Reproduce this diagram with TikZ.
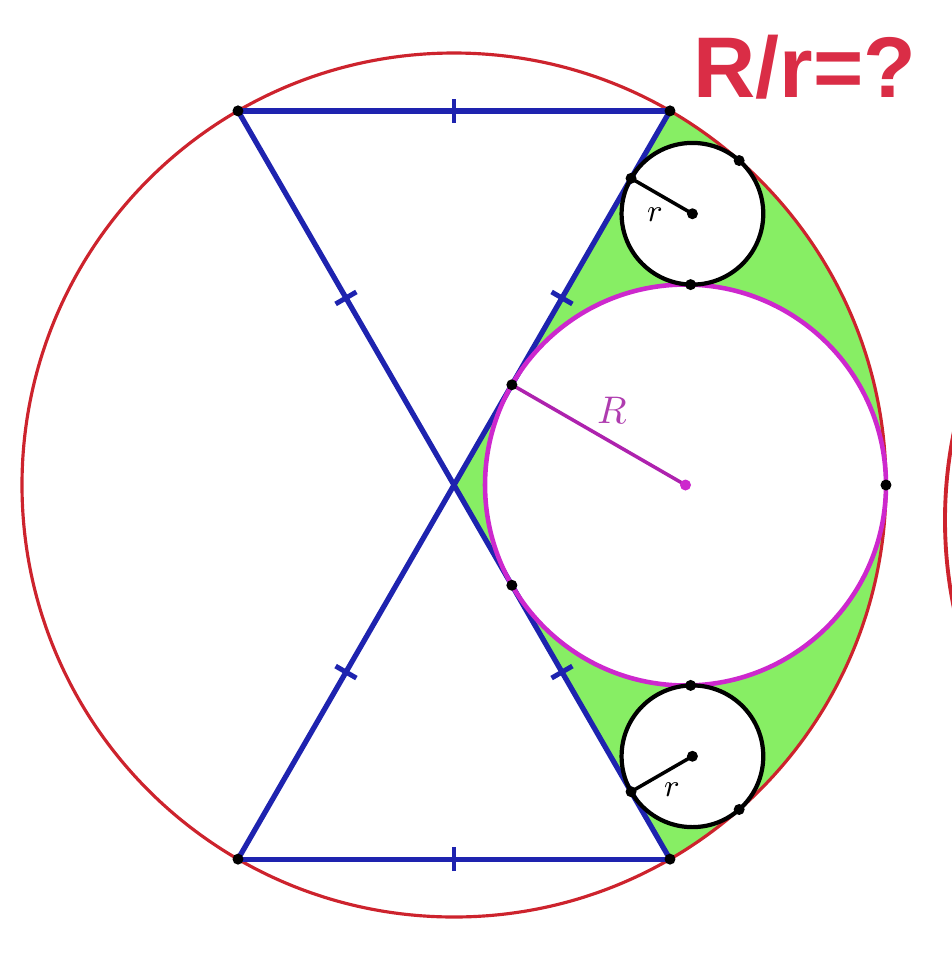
\documentclass[tikz,border=0pt]{standalone}
\usepackage{fontspec}
\newfontfamily\titlefont{Liberation Sans}
\usetikzlibrary{calc}
\definecolor{bigred}{RGB}{205,35,45}
\definecolor{lineblue}{RGB}{30,35,175}
\definecolor{magentac}{RGB}{205,40,205}
\definecolor{labelmag}{RGB}{175,60,175}
\definecolor{fillgreen}{RGB}{135,238,100}
\definecolor{titlered}{RGB}{218,45,70}
\newcommand\tickrule{\rule{1.4pt}{0.24cm}}
\begin{document}
\begin{tikzpicture}[
  dot/.style={circle,fill=black,inner sep=0pt,minimum size=0.11cm},
  mdot/.style={circle,fill=magentac,inner sep=0pt,minimum size=0.11cm},
  bigcirc/.style={draw=bigred,line width=0.9pt},
  blueline/.style={draw=lineblue,line width=1.5pt},
  smallcirc/.style={draw=black,line width=1.2pt},
  magcirc/.style={draw=magentac,line width=1.3pt},
  tk/.style={midway,sloped,inner sep=0pt,text=lineblue},
  rlabel/.style={font=\fontsize{9}{10}\selectfont},
]
\useasboundingbox (0,0) rectangle (9.52,-9.6);
\def\RR{4.32}
\def\rho{2.0049}
\def\rs{0.7085}
\coordinate (O) at (4.54,-4.85);
\coordinate (A) at ($(O)+(120:\RR)$);
\coordinate (B) at ($(O)+(60:\RR)$);
\coordinate (D) at ($(O)+(240:\RR)$);
\coordinate (E) at ($(O)+(300:\RR)$);
\coordinate (M) at ($(O)+(2.3151,0)$);
\coordinate (C1) at ($(O)+(2.3843,2.7126)$);
\coordinate (C2) at ($(O)+(2.3843,-2.7126)$);

% green region
\fill[fillgreen] (B) -- (O) -- (E) arc[start angle=-60,end angle=60,radius=\RR] -- cycle;
\fill[white] (M) circle[radius=\rho];
\fill[white] (C1) circle[radius=\rs];
\fill[white] (C2) circle[radius=\rs];

% big circle
\draw[bigcirc] (O) circle[radius=\RR];

% blue lines with ticks
\draw[blueline] (A) -- (B) node[tk] (t1) {\tickrule};
\draw[blueline] (D) -- (E) node[tk] (t2) {\tickrule};
\draw[blueline] (A) -- (O) node[tk] (t3) {\tickrule};
\draw[blueline] (O) -- (E) node[tk] (t4) {\tickrule};
\draw[blueline] (B) -- (O) node[tk] (t5) {\tickrule};
\draw[blueline] (O) -- (D) node[tk] (t6) {\tickrule};

% circles
\draw[magcirc] (M) circle[radius=\rho];
\draw[smallcirc] (C1) circle[radius=\rs];
\draw[smallcirc] (C2) circle[radius=\rs];

% tangent points
\coordinate (P1) at ($(C1)+(150:\rs)$);
\coordinate (P2) at ($(O)+(48.69:\RR)$);
\coordinate (P3) at ($(M)+(88.54:\rho)$);
\coordinate (Q1) at ($(C2)+(210:\rs)$);
\coordinate (Q2) at ($(O)+(-48.69:\RR)$);
\coordinate (Q3) at ($(M)+(-88.54:\rho)$);
\coordinate (S1) at ($(M)+(150:\rho)$);
\coordinate (S2) at ($(M)+(210:\rho)$);
\coordinate (S3) at ($(M)+(0:\rho)$);

% radii
\draw[black,line width=1pt] (C1) -- (P1);
\draw[black,line width=1pt] (C2) -- (Q1);
\draw[magentac!85!black,line width=1pt] (M) -- (S1);

% dots
\foreach \p in {A,B,D,E,C1,C2,P1,P2,P3,Q1,Q2,Q3,S1,S2,S3}
  \node[dot] (dot\p) at (\p) {};
\node[mdot] (dotM) at (M) {};

% labels
\node[text=labelmag,font=\fontsize{11}{13}\selectfont] (labR) at (6.12,-4.10) {$R$};
\node[rlabel] (labr1) at (6.55,-2.15) {$r$};
\node[rlabel] (labr2) at (6.72,-7.90) {$r$};

% title
\node[text=titlered,font=\titlefont\bfseries\fontsize{24.5}{28}\selectfont] (title) at (8.05,-0.67) {R/r=?};

% partial neighbouring circle at right edge
\begin{scope}
\clip (0,0) rectangle (9.52,-9.6);
\draw[bigred,line width=1.1pt] (13.8,-5.2) circle[radius=4.35];
\end{scope}
\end{tikzpicture}
\end{document}
